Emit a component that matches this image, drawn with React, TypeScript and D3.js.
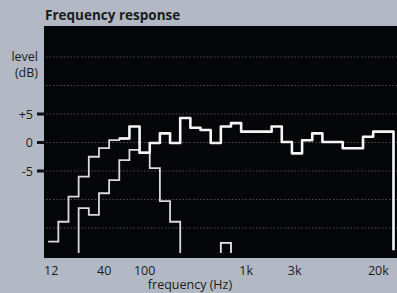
import React, { useEffect } from "react";
import * as d3 from "d3";

// ---- data (dB per 1/3-octave band) ----
const mainFreqs = [63, 80, 100, 125, 160, 200, 250, 315, 400, 500, 630, 800, 1000, 1250, 1600, 2000, 2500, 3150, 4000, 5000, 6300, 8000, 10000, 12500, 16000, 20000, 25000];
const mainValues = [0.7, 2.8, -1.8, -0.1, 1.6, -0.1, 4.3, 2.6, 2.2, -0.1, 2.8, 3.4, 1.9, 1.9, 1.9, 2.8, 0.1, -1.9, 0.4, 1.6, 0.1, 0.1, -1.0, -1.0, 1.0, 1.9, 1.9];

const curveAFreqs = [12.5, 16, 20, 25, 31.5, 40, 50, 63];
const curveAValues = [-17.4, -13.9, -9.5, -6.0, -2.5, -1.0, 0.4, 0.7];

const curveBFreqs = [25, 31.5, 40, 50, 63, 80, 100];
const curveBValues = [-11.5, -12.7, -8.9, -6.6, -3.1, -1.3, -1.8];

const curveDFreqs = [100, 125, 160, 200];
const curveDValues = [-1.8, -4.5, -10.3, -13.9];

const curveEFreqs = [630];
const curveEValues = [-17.6];

const floorDb = -19.4;

const xTickValues = [12, 40, 100, 1000, 3000, 20000];
const xTickLabels = ["12", "40", "100", "1k", "3k", "20k"];
const yTickValues = [5, 0, -5];
const yTickLabels = ["+5", "0", "-5"];
const gridValues = [15, 10, 5, 0, -5, -10, -15];

const W = 397;
const H = 293;
const plot = { left: 44, right: 397, top: 26, bottom: 258 };

const x = d3.scaleLog().domain([10, 32000]).range([43.1, 399.1]);
const y = d3.scaleLinear().domain([-20, 20]).range([256.5, 28.5]);

const exactCenter = (f: number) => Math.pow(10, Math.round(10 * Math.log10(f)) / 10);
const lo = (f: number) => exactCenter(f) / Math.pow(10, 0.05);
const hi = (f: number) => exactCenter(f) * Math.pow(10, 0.05);

function stepPoints(freqs: number[], vals: number[], dropStart: boolean, dropEnd: boolean, endDb = floorDb): [number, number][] {
  const pts: [number, number][] = [];
  if (dropStart) pts.push([lo(freqs[0]), floorDb]);
  freqs.forEach((f, i) => {
    pts.push([lo(f), vals[i]]);
    pts.push([hi(f), vals[i]]);
  });
  if (dropEnd) pts.push([hi(freqs[freqs.length - 1]), endDb]);
  return pts;
}

const line = d3
  .line<[number, number]>()
  .x((d) => x(d[0]))
  .y((d) => y(d[1]));

export default function App() {
  useEffect(() => {
    document.body.style.margin = "0";
  }, []);

  const font = "'Open Sans', 'DejaVu Sans', sans-serif";
  const textCol = "#1a1c20";

  return (
    <svg width={W} height={H} style={{ display: "block" }} xmlns="http://www.w3.org/2000/svg">
      <rect x={0} y={0} width={W} height={H} fill="#b2b9c4" />
      <text x={45} y={20} fontFamily={font} fontWeight={700} fontSize={13.5} fill={textCol}>
        Frequency response
      </text>
      <rect x={plot.left} y={plot.top} width={plot.right - plot.left} height={plot.bottom - plot.top} fill="#050607" />
      {gridValues.map((g) => (
        <line key={g} x1={plot.left + 2} x2={plot.right} y1={y(g)} y2={y(g)} stroke="#7d8080" strokeWidth={1} strokeDasharray="1.5 2" opacity={0.6} />
      ))}
      {/* y axis */}
      <text x={38} y={61} textAnchor="end" fontFamily={font} fontSize={12.5} fill={textCol}>level</text>
      <text x={38} y={77} textAnchor="end" fontFamily={font} fontSize={12.5} fill={textCol}>(dB)</text>
      {yTickValues.map((v, i) => (
        <g key={v}>
          <line x1={37} x2={44} y1={y(v)} y2={y(v)} stroke="#111" strokeWidth={3} />
          <text x={33} y={y(v) + 4.5} textAnchor="end" fontFamily={font} fontSize={12.5} fill={textCol}>{yTickLabels[i]}</text>
        </g>
      ))}
      {/* x axis */}
      {xTickValues.map((v, i) => (
        <text key={v} x={x(v)} y={275} textAnchor="middle" fontFamily={font} fontSize={12.5} fill={textCol}>{xTickLabels[i]}</text>
      ))}
      <text x={190} y={289} textAnchor="middle" fontFamily={font} fontSize={12.5} fill={textCol}>frequency (Hz)</text>

      {/* curves */}
      <path d={line(stepPoints(curveAFreqs, curveAValues, false, false)) || ""} fill="none" stroke="#d9dadb" strokeWidth={1.8} />
      <path d={line(stepPoints(curveBFreqs, curveBValues, true, false)) || ""} fill="none" stroke="#d9dadb" strokeWidth={1.8} />
      <path d={line(stepPoints(curveDFreqs, curveDValues, false, true)) || ""} fill="none" stroke="#d9dadb" strokeWidth={1.8} />
      <path d={line(stepPoints(curveEFreqs, curveEValues, true, true)) || ""} fill="none" stroke="#e8e8e8" strokeWidth={1.8} />
      <path d={line(stepPoints(mainFreqs, mainValues, false, true, -18.9)) || ""} fill="none" stroke="#f5f5f5" strokeWidth={2.6} strokeLinejoin="round" />
    </svg>
  );
}
